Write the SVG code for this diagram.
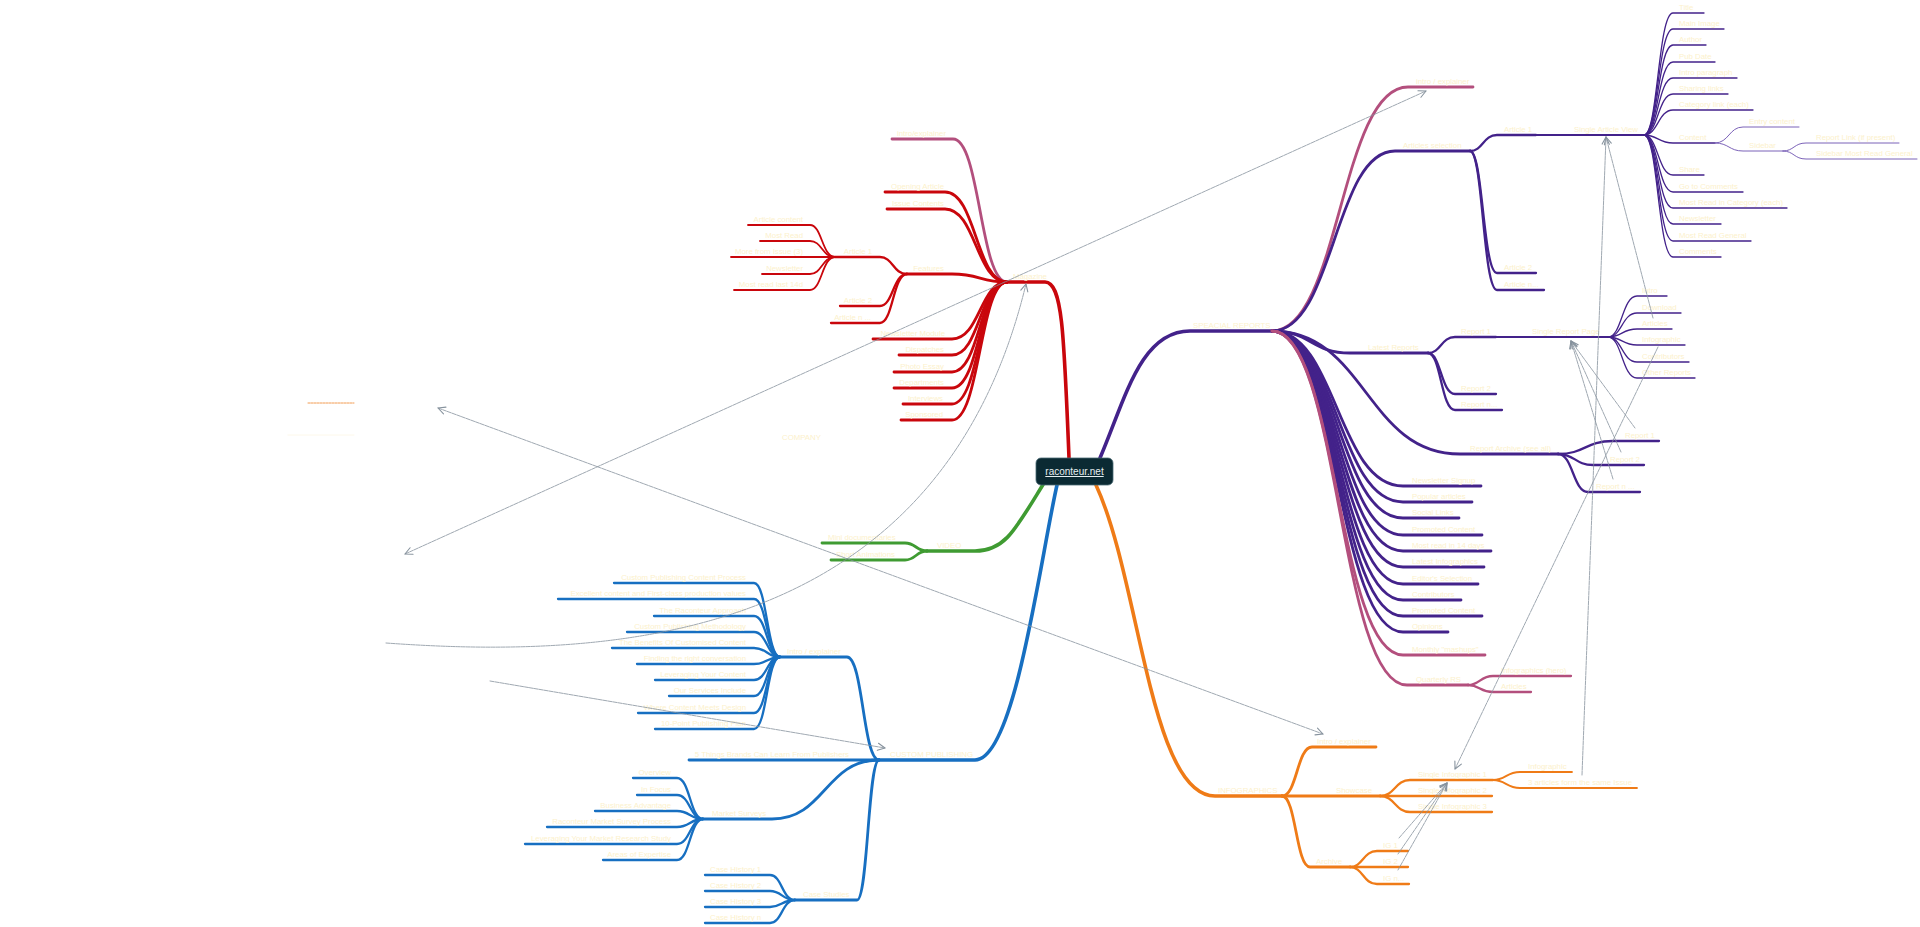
<svg xmlns="http://www.w3.org/2000/svg" width="1920" height="927" viewBox="0 0 1920 927">
<style>
path{fill:none;stroke-linecap:round;stroke-linejoin:round}
text{stroke:none;fill:#fcf1cc;font-family:"Liberation Sans",Arial,sans-serif;font-size:7.8px}
.e{text-anchor:end}
.red{stroke:#c9060c}.pink{stroke:#b34f7d}.pur{stroke:#43228a}.lpur{stroke:#7b62b8}.blue{stroke:#176fc1}.grn{stroke:#3f9b32}.org{stroke:#ef7b17}
.w1{stroke-width:3.6}.w2{stroke-width:2.8}.w3{stroke-width:2.3}.w4{stroke-width:1.8}.w5{stroke-width:1.3}.w6{stroke-width:1}
#links path{stroke:#86929d;stroke-width:0.8;stroke-dasharray:4 1}
</style>
<defs>
<marker id="ar" viewBox="0 0 10 10" refX="9" refY="5" markerWidth="9" markerHeight="9" markerUnits="userSpaceOnUse" orient="auto-start-reverse">
<path d="M1,1 L9,5 L1,9" style="stroke:#86929d;stroke-width:1.2;stroke-dasharray:none"/>
</marker>
</defs>
<rect width="1920" height="927" fill="#ffffff"/>

<!-- RED: Magazine -->
<g id="magazine" class="red w1"><path d="M1069,458 C1064,330 1062,282 1045,282 L1007,282"/><text x="1013" y="279">Magazine</text></g>
<g id="m-intro" class="pink w2"><path d="M1007,282 C980,282 980,139 953,139 L892,139"/><text class="e" x="946" y="136">intro/explainer</text></g>
<g id="m-opening" class="red w2"><path d="M1007,282 C976,282 976,192 945,192 L885,192"/><text class="e" x="944" y="189">Opening Article</text></g>
<g id="m-issue" class="red w2"><path d="M1007,282 C976,282 976,209 945,209 L887,209"/><text class="e" x="944" y="206">Issue Contents</text></g>
<g id="m-features" class="red w2"><path d="M1007,282 C980,282 980,274 952,274 L907,274"/><text class="e" x="944" y="271">Features</text></g>
<g id="m-newsmod" class="red w2"><path d="M1007,282 C980,282 980,339 952,339 L873,339"/><text class="e" x="945" y="336">Newsletter Module</text></g>
<g id="m-dispatches" class="red w2"><path d="M1007,282 C980,282 980,355 952,355 L899,355"/><text class="e" x="944" y="352">Dispatches</text></g>
<g id="m-photo" class="red w2"><path d="M1007,282 C980,282 980,372 952,372 L894,372"/><text class="e" x="944" y="369">Photo Essay</text></g>
<g id="m-depts" class="red w2"><path d="M1007,282 C980,282 980,388 952,388 L894,388"/><text class="e" x="944" y="385">Departments</text></g>
<g id="m-interviews" class="red w2"><path d="M1007,282 C980,282 980,404 952,404 L903,404"/><text class="e" x="943" y="401">Interviews</text></g>
<g id="m-sponsored" class="red w2"><path d="M1007,282 C980,282 980,420 952,420 L901,420"/><text class="e" x="943" y="417">Sponsored</text></g>
<g id="f-art1" class="red w3"><path d="M907,274 C893,274 893,257 880,257 L835,257"/><text class="e" x="872" y="254">Article 1</text></g>
<g id="f-art2" class="red w3"><path d="M907,274 C893,274 893,306 880,306 L840,306"/><text class="e" x="872" y="303">Article 2</text></g>
<g id="f-artn" class="red w3"><path d="M907,274 C893,274 893,323 880,323 L831,323"/><text class="e" x="871" y="320">Article n ...</text></g>
<g id="a1-content" class="red w4"><path d="M835,257 C822,257 822,225 810,225 L748,225"/><text class="e" x="803" y="222">Article content</text></g>
<g id="a1-mostread" class="red w4"><path d="M835,257 C822,257 822,241 810,241 L760,241"/><text class="e" x="803" y="238">Most Read</text></g>
<g id="a1-more" class="red w4"><path d="M835,257 L731,257"/><text class="e" x="803" y="254">More from Issue (3)</text></g>
<g id="a1-news" class="red w4"><path d="M835,257 C822,257 822,274 810,274 L762,274"/><text class="e" x="803" y="271">Newsletter</text></g>
<g id="a1-14d" class="red w4"><path d="M835,257 C822,257 822,290 810,290 L734,290"/><text class="e" x="803" y="287">Most read last 14d</text></g>

<!-- GREEN: VIDEO -->
<g id="video" class="grn w1"><path d="M1044,483 C1015,530 1005,551 975,551 L927,551"/><text x="937" y="548">VIDEO</text></g>
<g id="v-mini" class="grn w2"><path d="M927,551 C916,551 916,543 905,543 L822,543"/><text x="828" y="540">Mini documentaries</text></g>
<g id="v-short" class="grn w2"><path d="M927,551 C916,551 916,560 905,560 L831,560"/><text x="836" y="557">Short Animations</text></g>

<!-- BLUE -->
<g id="custom" class="blue w1"><path d="M1057,485 C1040,560 1015,760 975,760 L879,760"/><text x="890" y="757">CUSTOM PUBLISHING</text></g>
<g id="c-intro" class="blue w2"><path d="M879,760 C863,760 863,657 847,657 L780,657"/><text x="787" y="654">Intro / explainer</text></g>
<g id="c-5things" class="blue w2"><path d="M879,760 L689,760"/><text class="e" x="849" y="757">5 Things Brands Can Learn From Publishers</text></g>
<g id="c-market" class="blue w2"><path d="M879,760 C825,760 825,819 772,819 L703,819"/><text x="712" y="816">Market Surveys</text></g>
<g id="c-case" class="blue w2"><path d="M879,760 C868,760 868,900 857,900 L795,900"/><text x="803" y="897">Case Studies</text></g>
<g id="ci-1" class="blue w3"><path d="M780,657 C767,657 767,583 754,583 L614,583"/><text class="e" x="746" y="580">Custom Publishing Content Process</text></g>
<g id="ci-2" class="blue w3"><path d="M780,657 C767,657 767,599 754,599 L558,599"/><text class="e" x="746" y="596">Excellent content and  First-class production values</text></g>
<g id="ci-3" class="blue w3"><path d="M780,657 C767,657 767,616 754,616 L654,616"/><text class="e" x="746" y="613">The Raconteur Approach</text></g>
<g id="ci-4" class="blue w3"><path d="M780,657 C767,657 767,632 754,632 L627,632"/><text class="e" x="746" y="629">Custom Publishing Methodology</text></g>
<g id="ci-5" class="blue w3"><path d="M780,657 C767,657 767,648 754,648 L612,648"/><text class="e" x="746" y="645">The Benefits Of Customised Content</text></g>
<g id="ci-6" class="blue w3"><path d="M780,657 C767,657 767,664 754,664 L637,664"/><text class="e" x="746" y="661">Finding the right conversation</text></g>
<g id="ci-7" class="blue w3"><path d="M780,657 C767,657 767,680 754,680 L655,680"/><text class="e" x="746" y="677">Leveraging Your Content</text></g>
<g id="ci-8" class="blue w3"><path d="M780,657 C767,657 767,696 754,696 L669,696"/><text class="e" x="746" y="693">Our Services Include</text></g>
<g id="ci-9" class="blue w3"><path d="M780,657 C767,657 767,713 754,713 L638,713"/><text class="e" x="746" y="710">Where Content Meets Design</text></g>
<g id="ci-10" class="blue w3"><path d="M780,657 C767,657 767,729 754,729 L655,729"/><text class="e" x="746" y="726">10-Point Publishing Plan</text></g>
<g id="ms-1" class="blue w3"><path d="M703,819 C690,819 690,778 677,778 L633,778"/><text class="e" x="671" y="775">Overview</text></g>
<g id="ms-2" class="blue w3"><path d="M703,819 C690,819 690,795 677,795 L637,795"/><text class="e" x="671" y="792">In Focus</text></g>
<g id="ms-3" class="blue w3"><path d="M703,819 C690,819 690,811 677,811 L595,811"/><text class="e" x="671" y="808">Business Advantage</text></g>
<g id="ms-4" class="blue w3"><path d="M703,819 C690,819 690,827 677,827 L547,827"/><text class="e" x="671" y="824">Raconteur Market Survey Process</text></g>
<g id="ms-5" class="blue w3"><path d="M703,819 C690,819 690,844 677,844 L525,844"/><text class="e" x="671" y="841">Leveraging Your Market Research Study</text></g>
<g id="ms-6" class="blue w3"><path d="M703,819 C690,819 690,860 677,860 L603,860"/><text class="e" x="671" y="857">Areas of Expertise</text></g>
<g id="cs-1" class="blue w3"><path d="M795,900 C782,900 782,875 770,875 L705,875"/><text x="710" y="872">Case History 1</text></g>
<g id="cs-2" class="blue w3"><path d="M795,900 C782,900 782,891 770,891 L705,891"/><text x="710" y="888">Case History 2</text></g>
<g id="cs-3" class="blue w3"><path d="M795,900 C782,900 782,907 770,907 L705,907"/><text x="710" y="904">Case History 3</text></g>
<g id="cs-n" class="blue w3"><path d="M795,900 C782,900 782,923 770,923 L705,923"/><text x="710" y="920">Case History n</text></g>

<!-- ORANGE -->
<g id="infographics" class="org w1"><path d="M1096,485 C1140,580 1150,796 1215,796 L1282,796"/><text x="1218" y="793">INFOGRAPHICS</text></g>
<g id="i-intro" class="org w2"><path d="M1282,796 C1297,796 1297,747 1312,747 L1376,747"/><text x="1317" y="744">Intro / explainer</text></g>
<g id="i-showcase" class="org w2"><path d="M1282,796 L1380,796"/><text x="1336" y="793">Showcase</text></g>
<g id="i-archive" class="org w2"><path d="M1282,796 C1296,796 1296,867 1310,867 L1350,867"/><text x="1316" y="864">Archive</text></g>
<g id="sc-1" class="org w3"><path d="M1380,796 C1395,796 1395,780 1410,780 L1493,780"/><text x="1418" y="777">Single Infographic 1</text></g>
<g id="sc-2" class="org w3"><path d="M1380,796 L1492,796"/><text x="1418" y="793">Single Infographic 2</text></g>
<g id="sc-3" class="org w3"><path d="M1380,796 C1395,796 1395,812 1410,812 L1492,812"/><text x="1418" y="809">Single Infographic 3</text></g>
<g id="si-ig" class="org w4"><path d="M1493,780 C1506,780 1506,772 1520,772 L1572,772"/><text x="1528" y="769">Infographic</text></g>
<g id="si-3art" class="org w4"><path d="M1493,780 C1506,780 1506,788 1520,788 L1637,788"/><text x="1528" y="785">3 articles form the same Issue</text></g>
<g id="ar-1" class="org w3"><path d="M1350,867 C1363,867 1363,851 1377,851 L1408,851"/><text x="1383" y="848">IG 1</text></g>
<g id="ar-2" class="org w3"><path d="M1350,867 L1408,867"/><text x="1383" y="864">IG 2</text></g>
<g id="ar-n" class="org w3"><path d="M1350,867 C1363,867 1363,884 1377,884 L1409,884"/><text x="1383" y="881">IG n...</text></g>

<!-- PURPLE -->
<g id="special" class="pur w1"><path d="M1100,458 C1125,400 1140,331 1190,331 L1272,331"/><text x="1193" y="328">SPEACIAL REPORTS</text></g>
<g id="s-intro" class="pink w2"><path d="M1272,331 C1340,331 1340,87 1408,87 L1473,87"/><text x="1416" y="84">intro / explainer</text></g>
<g id="s-artsel" class="pur w2"><path d="M1272,331 C1334,331 1334,151 1395,151 L1470,151"/><text x="1403" y="148">Articles selection</text></g>
<g id="s-latest" class="pur w2"><path d="M1272,331 C1311,331 1311,353 1350,353 L1428,353"/><text x="1368" y="350">Latest Reports</text></g>
<g id="s-archive" class="pur w2"><path d="M1272,331 C1366,331 1366,454 1460,454 L1558,454"/><text x="1470" y="451">Report Archive (see all)</text></g>
<g id="s-news" class="pur w2"><path d="M1272,331 C1337,331 1337,486 1403,486 L1481,486"/><text x="1412" y="483">Newsletter Signup</text></g>
<g id="s-popular" class="pur w2"><path d="M1272,331 C1337,331 1337,502 1403,502 L1472,502"/><text x="1412" y="499">Popular articles</text></g>
<g id="s-social" class="pur w2"><path d="M1272,331 C1337,331 1337,518 1403,518 L1459,518"/><text x="1412" y="515">Social Links</text></g>
<g id="s-promo1" class="pur w2"><path d="M1272,331 C1337,331 1337,535 1403,535 L1482,535"/><text x="1412" y="532">Promoted Content</text></g>
<g id="s-14days" class="pur w2"><path d="M1272,331 C1337,331 1337,551 1403,551 L1491,551"/><text x="1412" y="548">Most read in 14 days</text></g>
<g id="s-latestig" class="pur w2"><path d="M1272,331 C1337,331 1337,567 1403,567 L1484,567"/><text x="1412" y="564">Latest Infographics</text></g>
<g id="s-editor" class="pur w2"><path d="M1272,331 C1337,331 1337,584 1403,584 L1478,584"/><text x="1412" y="581">Editor's Selection</text></g>
<g id="s-contrib" class="pur w2"><path d="M1272,331 C1337,331 1337,600 1403,600 L1461,600"/><text x="1412" y="597">Contributors</text></g>
<g id="s-promo2" class="pur w2"><path d="M1272,331 C1337,331 1337,616 1403,616 L1482,616"/><text x="1412" y="613">Promoted Content</text></g>
<g id="s-opinions" class="pur w2"><path d="M1272,331 C1337,331 1337,632 1403,632 L1448,632"/><text x="1412" y="629">Opinions</text></g>
<g id="s-monthly" class="pink w2"><path d="M1272,331 C1337,331 1337,655 1403,655 L1485,655"/><text x="1412" y="652">Monthly "mashups"</text></g>
<g id="s-quarterly" class="pink w2"><path d="M1272,331 C1339,331 1339,685 1407,685 L1468,685"/><text x="1416" y="682">Quarterly RS</text></g>
<g id="q-ig" class="pink w3"><path d="M1468,685 C1480,685 1480,676 1493,676 L1571,676"/><text x="1501" y="673">Infographics (hero)</text></g>
<g id="q-art" class="pink w3"><path d="M1468,685 C1480,685 1480,692 1493,692 L1531,692"/><text x="1501" y="689">Articles</text></g>

<g id="as-1" class="pur w3"><path d="M1470,151 C1483,151 1483,135 1497,135 L1536,135"/><text x="1504" y="132">Article 1</text></g>
<g id="as-2" class="pur w3"><path d="M1470,151 C1483,151 1483,273 1497,273 L1536,273"/><text x="1504" y="270">Article 2</text></g>
<g id="as-n" class="pur w3"><path d="M1470,151 C1483,151 1483,290 1497,290 L1544,290"/><text x="1504" y="287">Article n...</text></g>
<g id="sav" class="pur w4"><path d="M1536,135 L1644,135"/><text x="1574" y="132">Single Article View</text></g>
<g id="sav-title" class="pur w5"><path d="M1644,135 C1658,135 1658,13 1673,13 L1704,13"/><text x="1679" y="10">Title</text></g>
<g id="sav-img" class="pur w5"><path d="M1644,135 C1658,135 1658,29 1673,29 L1724,29"/><text x="1679" y="26">Main Image</text></g>
<g id="sav-author" class="pur w5"><path d="M1644,135 C1658,135 1658,45 1673,45 L1706,45"/><text x="1679" y="42">Author</text></g>
<g id="sav-date" class="pur w5"><path d="M1644,135 C1658,135 1658,62 1673,62 L1715,62"/><text x="1679" y="59">Pub Date</text></g>
<g id="sav-introp" class="pur w5"><path d="M1644,135 C1658,135 1658,78 1673,78 L1737,78"/><text x="1679" y="75">Intro paragraph</text></g>
<g id="sav-sharing" class="pur w5"><path d="M1644,135 C1658,135 1658,94 1673,94 L1728,94"/><text x="1679" y="91">Sharing links</text></g>
<g id="sav-cat" class="pur w5"><path d="M1644,135 C1658,135 1658,110 1673,110 L1753,110"/><text x="1679" y="107">Category link (each)</text></g>
<g id="sav-content" class="pur w5"><path d="M1644,135 C1658,135 1658,143 1673,143 L1715,143"/><text x="1679" y="140">Content</text></g>
<g id="sav-share" class="pur w5"><path d="M1644,135 C1658,135 1658,175 1673,175 L1704,175"/><text x="1679" y="172">Share</text></g>
<g id="sav-goto" class="pur w5"><path d="M1644,135 C1658,135 1658,192 1673,192 L1743,192"/><text x="1679" y="189">Go to Comments</text></g>
<g id="sav-mrcat" class="pur w5"><path d="M1644,135 C1658,135 1658,208 1673,208 L1787,208"/><text x="1679" y="205">Most Read in Category (each)</text></g>
<g id="sav-news" class="pur w5"><path d="M1644,135 C1658,135 1658,224 1673,224 L1721,224"/><text x="1679" y="221">Newsletter</text></g>
<g id="sav-mrgen" class="pur w5"><path d="M1644,135 C1658,135 1658,241 1673,241 L1751,241"/><text x="1679" y="238">Most Read General</text></g>
<g id="sav-comments" class="pur w5"><path d="M1644,135 C1658,135 1658,257 1673,257 L1721,257"/><text x="1679" y="254">Comments</text></g>
<g id="ct-entry" class="lpur w6"><path d="M1715,143 C1729,143 1729,127 1743,127 L1799,127"/><text x="1749" y="124">Entry content</text></g>
<g id="ct-sidebar" class="lpur w6"><path d="M1715,143 C1729,143 1729,151 1743,151 L1783,151"/><text x="1749" y="148">Sidebar</text></g>
<g id="sb-link" class="lpur w6"><path d="M1783,151 C1794,151 1794,143 1806,143 L1899,143"/><text x="1816" y="140">Report Link (if present)</text></g>
<g id="sb-mrg" class="lpur w6"><path d="M1783,151 C1794,151 1794,159 1806,159 L1917,159"/><text x="1816" y="156">Sidebar Most Read General</text></g>

<g id="lr-1" class="pur w3"><path d="M1428,353 C1441,353 1441,337 1455,337 L1496,337"/><text x="1461" y="334">Report 1</text></g>
<g id="lr-2" class="pur w3"><path d="M1428,353 C1441,353 1441,394 1455,394 L1496,394"/><text x="1461" y="391">Report 2</text></g>
<g id="lr-n" class="pur w3"><path d="M1428,353 C1441,353 1441,410 1455,410 L1502,410"/><text x="1461" y="407">Report n...</text></g>
<g id="srp" class="pur w4"><path d="M1496,337 L1608,337"/><text x="1532" y="334">Single Report Page</text></g>
<g id="srp-intro" class="pur w5"><path d="M1608,337 C1622,337 1622,296 1637,296 L1667,296"/><text x="1642" y="293">Intro</text></g>
<g id="srp-dl" class="pur w5"><path d="M1608,337 C1622,337 1622,313 1637,313 L1681,313"/><text x="1642" y="310">Download</text></g>
<g id="srp-art" class="pur w5"><path d="M1608,337 C1622,337 1622,329 1637,329 L1672,329"/><text x="1642" y="326">Articles</text></g>
<g id="srp-ig" class="pur w5"><path d="M1608,337 C1622,337 1622,345 1637,345 L1685,345"/><text x="1642" y="342">Infographic</text></g>
<g id="srp-contrib" class="pur w5"><path d="M1608,337 C1622,337 1622,362 1637,362 L1689,362"/><text x="1642" y="359">Contributors</text></g>
<g id="srp-other" class="pur w5"><path d="M1608,337 C1622,337 1622,378 1637,378 L1695,378"/><text x="1642" y="375">Other Reports</text></g>
<g id="ra-1" class="pur w3"><path d="M1558,454 C1585,454 1585,441 1613,441 L1659,441"/><text x="1625" y="438">Report 1</text></g>
<g id="ra-2" class="pur w3"><path d="M1558,454 C1575,454 1575,465 1593,465 L1644,465"/><text x="1610" y="462">Report 2</text></g>
<g id="ra-n" class="pur w3"><path d="M1558,454 C1573,454 1573,492 1588,492 L1640,492"/><text x="1596" y="489">Report n ...</text></g>

<!-- floating -->
<g id="company"><text x="782" y="440">COMPANY</text></g>
<g id="floating-line"><path d="M308,403 L354,403" style="stroke:#f0913e;stroke-width:0.9;stroke-dasharray:2 1"/><path d="M288,435 L354,435" style="stroke:#fcf6e4;stroke-width:0.8"/></g>

<!-- connectors -->
<g id="links">
<path d="M405,554 L1426,91" marker-start="url(#ar)" marker-end="url(#ar)"/>
<path d="M438,408 L1323,734" marker-start="url(#ar)" marker-end="url(#ar)"/>
<path d="M386,643 C620,660 940,640 1026,284" marker-end="url(#ar)"/>
<path d="M490,681 L885,748" marker-end="url(#ar)"/>
<path d="M1399,838 L1447,783" marker-end="url(#ar)"/>
<path d="M1398,854 L1447,783" marker-end="url(#ar)"/>
<path d="M1398,870 L1447,783" marker-end="url(#ar)"/>
<path d="M1658,347 L1455,769" marker-end="url(#ar)"/>
<path d="M1582,775 L1606,137" marker-end="url(#ar)"/>
<path d="M1653,318 L1606,137" marker-end="url(#ar)"/>
<path d="M1635,428 L1571,341" marker-end="url(#ar)"/>
<path d="M1621,452 L1571,341" marker-end="url(#ar)"/>
<path d="M1613,479 L1571,341" marker-end="url(#ar)"/>
</g>

<!-- center -->
<g id="root">
<rect x="1036" y="458" width="77" height="27" rx="5" fill="#0b2a33" stroke="#4a6a73" stroke-width="0.8"/>
<text x="1074.5" y="475" style="text-anchor:middle;font-size:10px;fill:#e6eef0;text-decoration:underline">raconteur.net</text>
</g>
</svg>
